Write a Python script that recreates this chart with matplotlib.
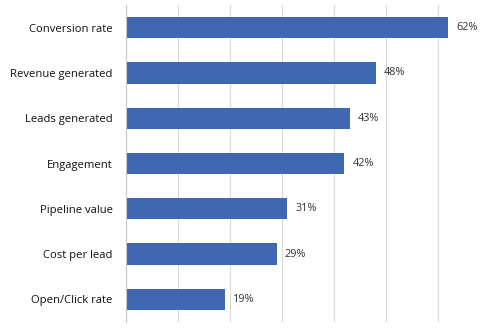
import matplotlib.pyplot as plt

# Data
categories = ['Conversion rate', 'Revenue generated', 'Leads generated', 'Engagement',
              'Pipeline value', 'Cost per lead', 'Open/Click rate']
values = [62, 48, 43, 42, 31, 29, 19]

plt.rcParams['font.family'] = ['Open Sans', 'DejaVu Sans']

fig = plt.figure(figsize=(4.91, 3.28), dpi=100)
ax = fig.add_axes([0.2576, 0.018, 0.74, 0.967])

y = list(range(len(categories)))
bars = ax.barh(y, values, height=0.47, color='#4068b2', zorder=3)

for yi, v in zip(y, values):
    ax.text(v + 1.5, yi, f'{v}%', va='center', ha='left', fontsize=7.8, color='#333333')

ax.set_xlim(0, 70)
ax.set_ylim(6.5, -0.5)
ax.set_xticks(range(0, 71, 10))
ax.set_xticklabels([])
ax.set_yticks(y)
ax.set_yticklabels(categories, fontsize=8.1, color='#111111')
ax.tick_params(axis='both', length=0)
ax.tick_params(axis='y', pad=10)
ax.grid(axis='x', color='#d9d9d9', linewidth=0.8, zorder=0)
for s in ['top', 'right', 'bottom']:
    ax.spines[s].set_visible(False)
ax.spines['left'].set_color('#c8c8c8')
ax.spines['left'].set_zorder(4)

fig.savefig('out.png', dpi=100)
